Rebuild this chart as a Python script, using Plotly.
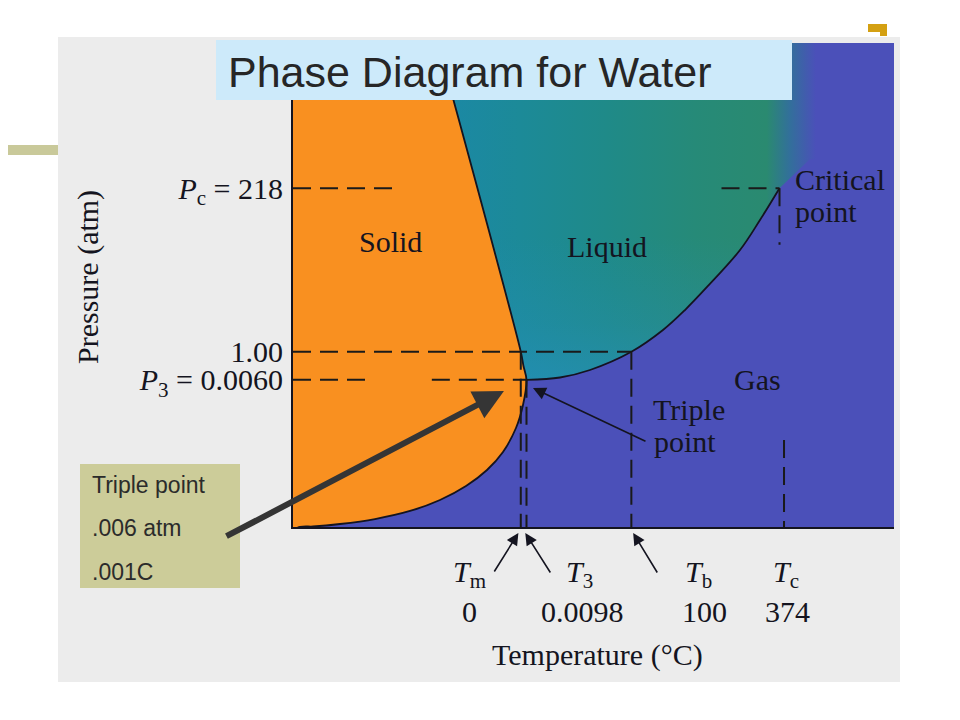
import plotly.graph_objects as go

# ---------------- data (schematic, not-to-scale phase diagram) ----------------
# schematic axis positions of the labelled temperatures / pressures
T_m, T_3, T_b, T_c = 37.9, 38.85, 56.3, 80.95
T_c_low = 81.7
P_c, P_1, P_3 = 70.0, 36.2, 30.4

p_tick_vals = [P_c, P_1, P_3]
p_tick_text = ["<i>P</i><sub>c</sub> = 218", "1.00", "<i>P</i><sub>3</sub> = 0.0060"]

temp_names = ["<i>T</i><sub>m</sub>", "<i>T</i><sub>3</sub>", "<i>T</i><sub>b</sub>", "<i>T</i><sub>c</sub>"]
temp_values = ["0", "0.0098", "100", "374"]

# solid-liquid (fusion) boundary, from top down to the triple point
fusion_x = [21.97, 24.13, 37.9, 38.35, 38.85]
fusion_y = [110.0, 100.0, 36.2, 33.26, 30.4]
# solid-gas (sublimation) boundary, from the triple point down to the axis
sub_x = [38.85, 38.27, 37.10, 34.94, 32.28, 28.79, 24.46, 19.47, 13.64, 7.82, 3.33, 1.16]
sub_y = [30.4, 25.21, 20.45, 15.50, 11.78, 8.47, 5.58, 3.31, 1.65, 0.62, 0.10, 0.0]
# liquid-gas (vaporization) boundary, triple point -> critical point
vap_x = [38.85, 44.43, 49.42, 56.3, 61.56, 65.22, 68.89, 74.38, 77.70, 80.95]
vap_y = [30.4, 30.89, 32.44, 36.2, 40.70, 44.83, 49.59, 57.23, 63.43, 70.0]

region_labels = ["Solid", "Liquid", "Gas"]
region_x = [16.3, 52.3, 77.3]
region_y = [58.9, 57.9, 30.4]

# ---------------- colours ----------------
ORANGE = "#f99020"
GAS = "#4b50b9"
INK = "#141420"
SERIF = "Liberation Serif, Times New Roman, serif"
SANS = "Liberation Sans, Arial, sans-serif"

fig = go.Figure()

# gas background region
fig.add_trace(go.Scatter(x=[-5, 110, 110, -5], y=[-5, -5, 110, 110], fill="toself",
                         fillcolor=GAS, line=dict(width=0), mode="lines", hoverinfo="skip"))

# liquid region (fill only; boundary lines drawn separately)
liq_x = fusion_x + vap_x[1:] + [86, 110, 110]
liq_y = fusion_y + vap_y[1:] + [76, 76, 110]
fig.add_trace(go.Scatter(
    x=liq_x, y=liq_y, fill="toself", mode="lines", line=dict(width=0),
    fillgradient=dict(type="horizontal", start=24, stop=87,
                      colorscale=[[0.0, "#1b88a6"], [0.22, "#1c8a98"], [0.45, "#1f8a88"],
                                  [0.68, "#268a78"], [0.87, "#2a8a70"], [0.93, "#32709a"],
                                  [1.0, GAS]]),
    hoverinfo="skip"))
fig.add_trace(go.Scatter(
    x=liq_x, y=liq_y, fill="toself", mode="lines", line=dict(width=0),
    fillgradient=dict(type="vertical", start=30, stop=60,
                      colorscale=[[0.0, "rgba(40,145,200,0.5)"], [0.4, "rgba(40,145,200,0.22)"],
                                  [1.0, "rgba(40,145,200,0.0)"]]),
    hoverinfo="skip"))

# solid region (its outline draws the fusion and sublimation curves)
sol_x = fusion_x + sub_x[1:] + [-10, -10]
sol_y = fusion_y + sub_y[1:] + [-5, 110]
fig.add_trace(go.Scatter(x=sol_x, y=sol_y, fill="toself", fillcolor=ORANGE, mode="lines",
                         line=dict(color=INK, width=1.8, shape="spline"), hoverinfo="skip"))

# vaporization curve
fig.add_trace(go.Scatter(x=vap_x, y=vap_y, mode="lines",
                         line=dict(color=INK, width=1.8, shape="spline"), hoverinfo="skip"))

# dashed guide lines
dash = dict(color="#1a1a1a", width=2, dash="18px,9px")
guides = [
    ([0, 16.8], [P_c, P_c]),
    ([71.3, T_c], [P_c, P_c]),
    ([0, T_b], [P_1, P_1]),
    ([0, 12.5], [P_3, P_3]),
    ([23.1, T_3], [P_3, P_3]),
    ([T_m, T_m], [P_1, 0]),
    ([T_3, T_3], [P_3, 0]),
    ([T_b, T_b], [P_1, 0]),
    ([T_c, T_c], [P_c, 58.3]),
    ([T_c_low, T_c_low], [18.0, 0]),
]
for gx, gy in guides:
    fig.add_trace(go.Scatter(x=gx, y=gy, mode="lines", line=dash, hoverinfo="skip"))

# ---------------- page geometry ----------------
# the page body has an 8px margin, so the figure is offset by 8px
OFF = 8
FW, FH = 960 - OFF, 720 - OFF
L, R, T, B = 293, 894, 43, 527          # plot area in page pixels
W, H = R - L, B - T


def px(xp):
    return (xp - L) / W


def py(yp):
    return (B - yp) / H


shapes = [
    dict(type="rect", xref="paper", yref="paper", x0=px(58), x1=px(900), y0=py(682), y1=py(37),
         fillcolor="#ececec", line=dict(width=0), layer="below"),
    dict(type="rect", xref="paper", yref="paper", x0=px(0), x1=px(58), y0=py(155), y1=py(145),
         fillcolor="#c9c99a", line=dict(width=0), layer="above"),
    dict(type="rect", xref="paper", yref="paper", x0=px(868), x1=px(887), y0=py(32), y1=py(24),
         fillcolor="#d4a012", line=dict(width=0), layer="above"),
    dict(type="rect", xref="paper", yref="paper", x0=px(880), x1=px(887), y0=py(36), y1=py(32),
         fillcolor="#d4a012", line=dict(width=0), layer="above"),
    dict(type="rect", xref="paper", yref="paper", x0=px(216), x1=px(792), y0=py(100), y1=py(40),
         fillcolor="#cdeafa", line=dict(width=0), layer="above"),
    dict(type="rect", xref="paper", yref="paper", x0=px(80), x1=px(240), y0=py(588), y1=py(464),
         fillcolor="#cccc99", line=dict(width=0), layer="above"),
]

ann = []
serif30 = dict(family=SERIF, size=30, color=INK)
C = dict(xanchor="center", yanchor="middle")

# region labels
for lab, rx, ry in zip(region_labels, region_x, region_y):
    ann.append(dict(x=rx, y=ry, xref="x", yref="y", text=lab, showarrow=False, font=serif30, **C))
for txt, ax_, ay_ in [("Triple", 59.57, 24.2), ("point", 59.73, 17.6),
                      ("Critical", 83.2, 71.7), ("point", 83.2, 65.1)]:
    ann.append(dict(x=ax_, y=ay_, xref="x", yref="y", text=txt, showarrow=False,
                    xanchor="left", yanchor="middle", font=serif30))

# triple point pointer
ann.append(dict(x=39.93, y=28.72, xref="x", yref="y", text="", showarrow=True,
                ax=114, ay=54, arrowhead=2, arrowsize=1.6, arrowwidth=1.6, arrowcolor=INK,
                standoff=0))

# temperature names, values, arrows
name_x = [29.3, 47.75, 67.55, 82.1]
value_x = [29.45, 48.1, 68.4, 82.2]
for nm, nx in zip(temp_names, name_x):
    ann.append(dict(x=nx, y=py(574), xref="x", yref="paper", text=nm, showarrow=False,
                    font=serif30, **C))
for vv, vx in zip(temp_values, value_x):
    ann.append(dict(x=vx, y=py(611), xref="x", yref="paper", text=vv, showarrow=False,
                    font=serif30, **C))
for tx, axo, ayo in [(T_m - 0.4, -25, 40), (T_3 - 0.2, 26, 41), (T_b + 0.3, 25, 41)]:
    ann.append(dict(x=tx, y=py(533), xref="x", yref="paper", text="", showarrow=True,
                    ax=axo, ay=ayo, arrowhead=2, arrowsize=1.5, arrowwidth=1.6,
                    arrowcolor=INK, standoff=0))

ann.append(dict(x=px(597), y=py(655), xref="paper", yref="paper", text="Temperature (°C)",
                showarrow=False, font=serif30, **C))
ann.append(dict(x=px(88), y=py(277), xref="paper", yref="paper", text="Pressure (atm)",
                showarrow=False, textangle=-90, font=serif30, **C))

# title
ann.append(dict(x=px(226), y=py(72), xref="paper", yref="paper", text="Phase Diagram for Water",
                showarrow=False, xanchor="left", yanchor="middle",
                font=dict(family=SANS, size=43, color="#262626")))

# side note box
for txt, yy in [("Triple point", 485), (".006 atm", 528), (".001C", 572)]:
    ann.append(dict(x=px(90), y=py(yy), xref="paper", yref="paper", text=txt, showarrow=False,
                    xanchor="left", yanchor="middle",
                    font=dict(family=SANS, size=23, color="#2b2b2b")))

# thick grey pointer to triple point
ann.append(dict(x=35.1, y=28.1, xref="x", yref="y", text="", showarrow=True,
                ax=-279, ay=146, arrowhead=2, arrowsize=1.0, arrowwidth=6,
                arrowcolor="#353535", standoff=0))

fig.update_layout(
    width=FW, height=FH, autosize=False,
    margin=dict(l=L - OFF, r=FW - (R - OFF), t=T - OFF, b=FH - (B - OFF), pad=0),
    paper_bgcolor="white", plot_bgcolor=GAS,
    showlegend=False, shapes=shapes, annotations=ann,
    xaxis=dict(range=[0, 100], showline=True, linecolor=INK, linewidth=2, ticks="",
               showticklabels=False, showgrid=False, zeroline=False, fixedrange=True),
    yaxis=dict(range=[0, 100], showline=True, linecolor=INK, linewidth=2, ticks="",
               tickvals=p_tick_vals, ticktext=p_tick_text, tickfont=serif30,
               ticklabelstandoff=2, showgrid=False, zeroline=False, fixedrange=True,
               automargin=False),
    hovermode=False,
)

fig.write_html("out.html")
